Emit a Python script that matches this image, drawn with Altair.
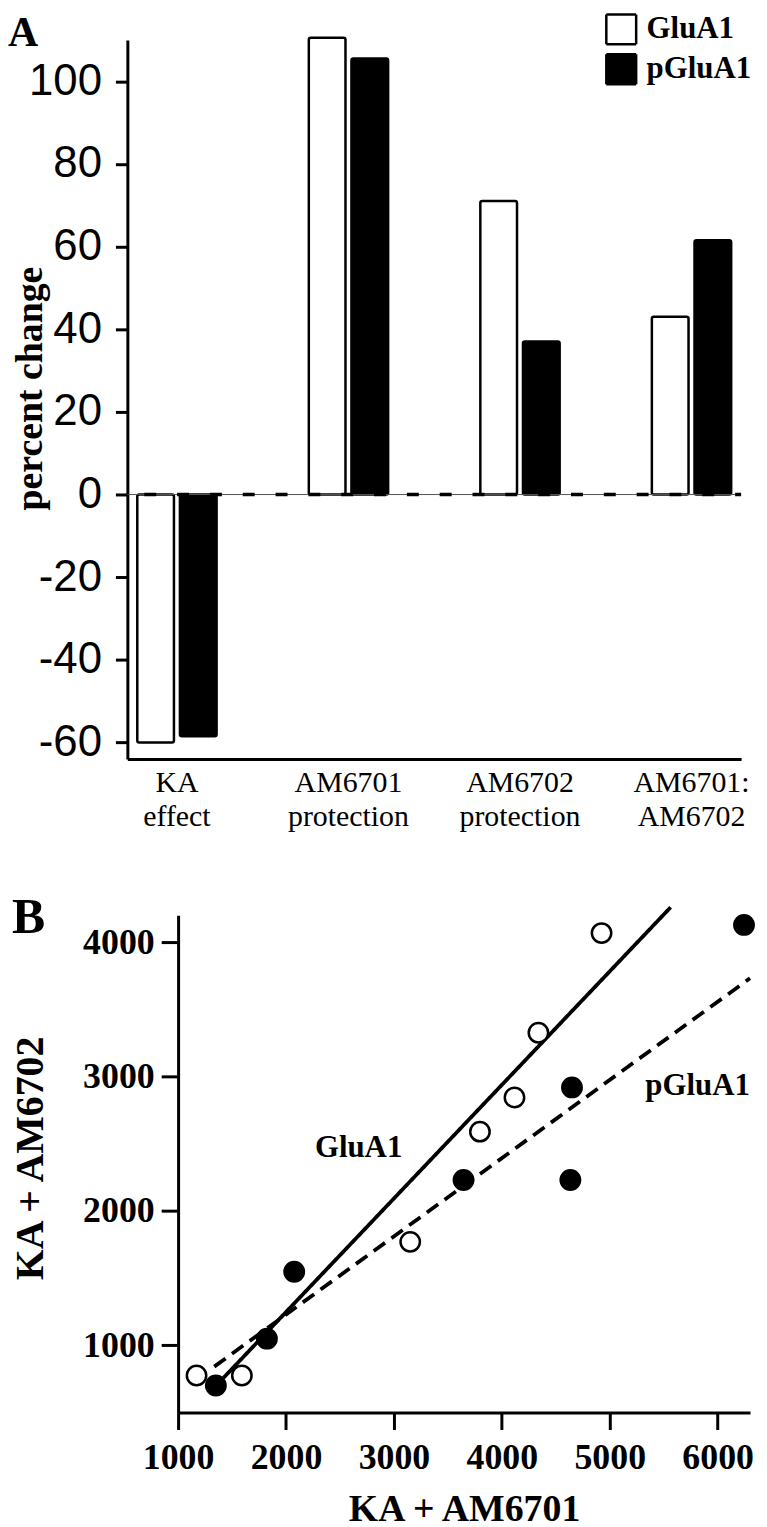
import altair as alt
import pandas as pd

# ---------------- Panel A data ----------------
categories = ["KA effect", "AM6701 protection", "AM6702 protection", "AM6701: AM6702"]
series_names = ["GluA1", "pGluA1"]
glua1_pct = [-60, 110.5, 71, 43]
pglua1_pct = [-58.5, 105.5, 37, 61.5]
a_ticks = [-60, -40, -20, 0, 20, 40, 60, 80, 100]
zero_value = [0]

# ---------------- Panel B data ----------------
glua1_x = [1171, 1591, 3151, 3797, 4117, 4339, 4924]
glua1_y = [776, 776, 1770, 2590, 2844, 3326, 4067]
pglua1_x = [1350, 1823, 2076, 3645, 4635, 4650, 6244]
pglua1_y = [701, 1050, 1548, 2230, 2230, 2919, 4128]
glua1_fit_x = [1420, 5564]
glua1_fit_y = [758, 4259]
pglua1_fit_x = [1335, 6300]
pglua1_fit_y = [842, 3731]
b_xticks = [1000, 2000, 3000, 4000, 5000, 6000]
b_yticks = [1000, 2000, 3000, 4000]
line_labels = ["GluA1", "pGluA1"]
line_label_x = [2268, 5330]
line_label_y = [2400, 2859]
panel_letters = ["A", "B"]

SERIF = "Liberation Serif"
SANS = "Liberation Sans"

# ---------------- Panel A ----------------
bars_df = pd.DataFrame({
    "category": categories * 2,
    "series": [series_names[0]] * len(categories) + [series_names[1]] * len(categories),
    "value": glua1_pct + pglua1_pct,
})
zero_df = pd.DataFrame({"value": zero_value})

ya = alt.Y(
    "value:Q",
    stack=None,
    scale=alt.Scale(domain=[-64, 110], nice=False, zero=False),
    axis=alt.Axis(
        values=a_ticks, title="percent change", grid=False,
        labelExpr="toString(datum.value)",
        domainWidth=3, domainColor="black", tickWidth=3, tickColor="black", tickSize=12,
        labelFont=SANS, labelFontSize=44, labelColor="black", labelPadding=14,
        titleFont=SERIF, titleFontWeight="bold", titleFontSize=38, titleColor="black",
        titleAngle=270, titleX=-78, titleY=350, titleBaseline="bottom", titleAlign="center",
    ),
)
xa = alt.X(
    "category:N", sort=categories,
    scale=alt.Scale(paddingInner=0.5376, paddingOuter=0.0578),
    axis=alt.Axis(
        title=None, labelExpr="split(datum.label, ' ')", labelAngle=0,
        labelFont=SERIF, labelFontSize=30, labelLineHeight=34, labelColor="black",
        labelPadding=9, labelBaseline="top", ticks=False, tickSize=0,
        domainWidth=3, domainColor="black",
    ),
)

bars = alt.Chart(bars_df).mark_bar(stroke="black", strokeWidth=2.5, cornerRadius=2).encode(
    x=xa,
    xOffset=alt.XOffset("series:N", sort=series_names,
                        scale=alt.Scale(paddingInner=0.14, paddingOuter=0)),
    y=ya,
    fill=alt.Fill(
        "series:N",
        scale=alt.Scale(domain=series_names, range=["white", "black"]),
        legend=alt.Legend(
            orient="none", legendX=480, legendY=-27, title=None, padding=0,
            symbolType="square", symbolSize=900, symbolStrokeColor="black",
            symbolStrokeWidth=2.5, symbolOpacity=1, symbolDash=[1, 0],
            labelFont=SERIF, labelFontWeight="bold", labelFontSize=31, labelColor="black",
            labelOffset=9, rowPadding=-1,
        ),
    ),
)
thin_zero = alt.Chart(zero_df).mark_rule(color="#555555", strokeWidth=1).encode(y=ya)
dash_zero = alt.Chart(zero_df).mark_rule(
    color="black", strokeWidth=3.5, strokeDash=[12, 21], strokeDashOffset=6
).encode(y=ya)

letter_a = alt.Chart(pd.DataFrame({"t": [panel_letters[0]]})).mark_text(
    align="left", baseline="alphabetic", font=SERIF, fontWeight="bold", fontSize=42, color="black"
).encode(text="t:N", x=alt.value(-120), y=alt.value(6))

panel_a = alt.layer(bars, thin_zero, dash_zero, letter_a).properties(width=617, height=723)

# ---------------- Panel B ----------------
# Panel B's plot is aligned with panel A's, its x range starts 51px further right
B_SHIFT = 51
B_WIDTH = 626

pts_df = pd.DataFrame({
    "px": glua1_x + pglua1_x,
    "py": glua1_y + pglua1_y,
    "kind": [series_names[0]] * len(glua1_x) + [series_names[1]] * len(pglua1_x),
})
fit_df = pd.DataFrame({
    "px": glua1_fit_x + pglua1_fit_x,
    "py": glua1_fit_y + pglua1_fit_y,
    "fit": [series_names[0]] * 2 + [series_names[1]] * 2,
})
lab_df = pd.DataFrame({"t": line_labels, "px": line_label_x, "py": line_label_y})

xb = alt.X(
    "px:Q",
    scale=alt.Scale(domain=[1000, 6300], nice=False, zero=False, range=[B_SHIFT, B_WIDTH]),
    axis=alt.Axis(
        values=b_xticks, title="KA + AM6701", format="d", grid=False, labelFlush=False,
        domainWidth=3, domainColor="black", tickWidth=3, tickColor="black", tickSize=17,
        labelFont=SERIF, labelFontWeight="bold", labelFontSize=36, labelColor="black",
        labelPadding=11,
        titleFont=SERIF, titleFontWeight="bold", titleFontSize=38, titleColor="black",
        titlePadding=15, titleX=(B_SHIFT + B_WIDTH) / 2,
    ),
)
yb = alt.Y(
    "py:Q",
    scale=alt.Scale(domain=[500, 4200], nice=False, zero=False),
    axis=alt.Axis(
        values=b_yticks, title="KA + AM6702", format="d", grid=False, offset=-B_SHIFT,
        domainWidth=3, domainColor="black", tickWidth=3, tickColor="black", tickSize=17,
        labelFont=SERIF, labelFontWeight="bold", labelFontSize=36, labelColor="black",
        labelPadding=7,
        titleFont=SERIF, titleFontWeight="bold", titleFontSize=40, titleColor="black",
        titleAngle=270, titleX=-128, titleY=244, titleBaseline="bottom", titleAlign="center",
    ),
)

fit_lines = alt.Chart(fit_df).mark_line(color="black", strokeWidth=3.8).encode(
    x=xb, y=yb, detail="fit:N",
    strokeDash=alt.StrokeDash(
        "fit:N", scale=alt.Scale(domain=series_names, range=[[1, 0], [14, 8]]), legend=None
    ),
)
points = alt.Chart(pts_df).mark_point(
    shape="circle", filled=True, stroke="black", strokeWidth=2.5, size=380, opacity=1
).encode(
    x=xb, y=yb,
    fill=alt.Fill("kind:N", scale=alt.Scale(domain=series_names, range=["white", "black"]),
                  legend=None),
)
labels_b = alt.Chart(lab_df).mark_text(
    align="left", baseline="alphabetic", font=SERIF, fontWeight="bold", fontSize=31, color="black"
).encode(x=xb, y=yb, text="t:N")
letter_b = alt.Chart(pd.DataFrame({"t": [panel_letters[1]]})).mark_text(
    align="left", baseline="alphabetic", font=SERIF, fontWeight="bold", fontSize=50, color="black"
).encode(text="t:N", x=alt.value(B_SHIFT - 167), y=alt.value(18))

panel_b = alt.layer(fit_lines, points, labels_b, letter_b).properties(width=B_WIDTH, height=500)

chart = alt.vconcat(panel_a, panel_b, spacing=62).properties(
    padding=0, background="white"
).resolve_scale(fill="independent").resolve_legend(fill="independent").configure_view(stroke=None)

chart.save("out.html", embed_options={"renderer": "svg", "actions": False})
